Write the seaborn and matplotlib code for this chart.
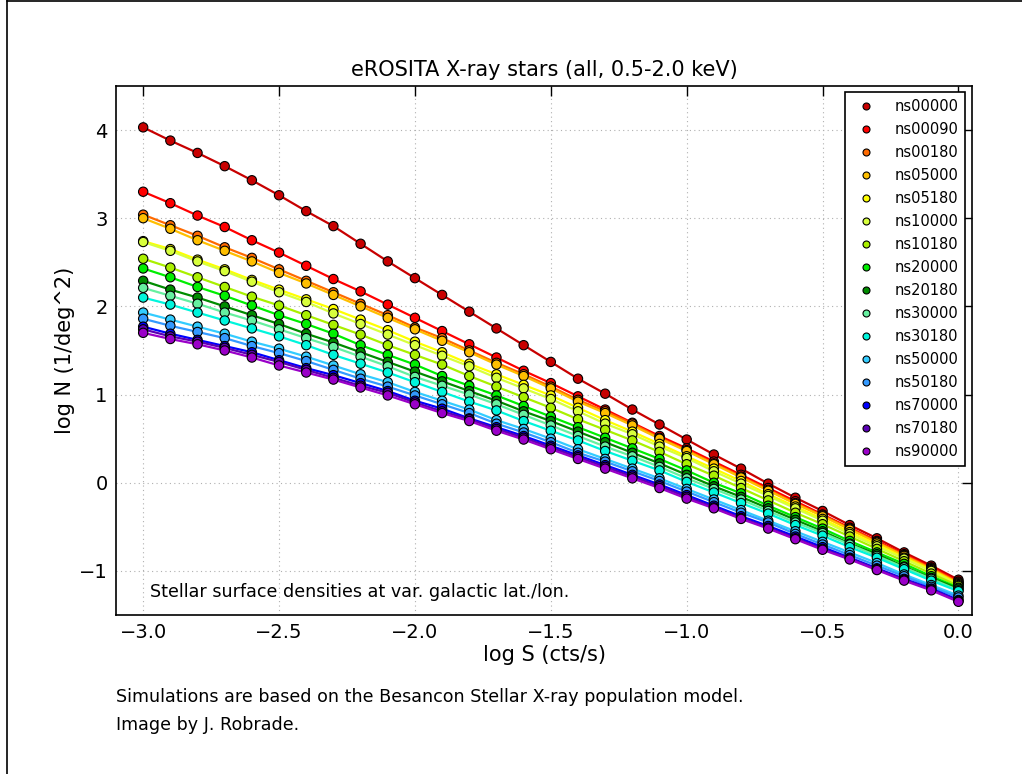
import matplotlib
matplotlib.use("Agg")
import matplotlib.pyplot as plt
import seaborn as sns
import pandas as pd
from matplotlib.lines import Line2D

log_s = [-3.0, -2.9, -2.8, -2.7, -2.6, -2.5, -2.4, -2.3, -2.2, -2.1, -2.0,
         -1.9, -1.8, -1.7, -1.6, -1.5, -1.4, -1.3, -1.2, -1.1, -1.0,
         -0.9, -0.8, -0.7, -0.6, -0.5, -0.4, -0.3, -0.2, -0.1, 0.0]

ns00000 = [4.03, 3.88, 3.74, 3.59, 3.43, 3.26, 3.08, 2.91, 2.71, 2.51, 2.32, 2.13, 1.94, 1.75, 1.56, 1.37, 1.18, 1.01, 0.83, 0.66, 0.49, 0.32, 0.16, -0.01, -0.17, -0.32, -0.48, -0.63, -0.79, -0.94, -1.10]
ns00090 = [3.30, 3.17, 3.03, 2.90, 2.75, 2.61, 2.46, 2.31, 2.17, 2.02, 1.87, 1.72, 1.57, 1.42, 1.27, 1.13, 0.98, 0.83, 0.68, 0.53, 0.39, 0.24, 0.09, -0.06, -0.21, -0.36, -0.51, -0.66, -0.81, -0.96, -1.12]
ns00180 = [3.04, 2.92, 2.80, 2.67, 2.55, 2.42, 2.29, 2.16, 2.03, 1.90, 1.76, 1.64, 1.50, 1.36, 1.23, 1.09, 0.94, 0.81, 0.67, 0.51, 0.37, 0.22, 0.07, -0.08, -0.23, -0.37, -0.52, -0.67, -0.82, -0.97, -1.13]
ns05000 = [3.00, 2.88, 2.75, 2.63, 2.51, 2.38, 2.26, 2.13, 2.00, 1.87, 1.74, 1.61, 1.48, 1.34, 1.21, 1.07, 0.92, 0.79, 0.65, 0.50, 0.36, 0.21, 0.06, -0.09, -0.24, -0.38, -0.53, -0.68, -0.83, -0.98, -1.14]
ns05180 = [2.74, 2.65, 2.53, 2.42, 2.30, 2.19, 2.08, 1.97, 1.85, 1.73, 1.60, 1.48, 1.35, 1.23, 1.11, 0.99, 0.85, 0.71, 0.58, 0.44, 0.30, 0.16, 0.02, -0.13, -0.27, -0.41, -0.56, -0.70, -0.85, -0.99, -1.15]
ns10000 = [2.73, 2.63, 2.51, 2.40, 2.28, 2.16, 2.05, 1.92, 1.80, 1.68, 1.56, 1.44, 1.32, 1.19, 1.07, 0.95, 0.81, 0.67, 0.55, 0.41, 0.28, 0.13, -0.01, -0.15, -0.29, -0.43, -0.58, -0.72, -0.86, -1.00, -1.16]
ns10180 = [2.54, 2.44, 2.33, 2.22, 2.11, 2.01, 1.90, 1.79, 1.68, 1.56, 1.45, 1.34, 1.21, 1.09, 0.97, 0.85, 0.72, 0.60, 0.48, 0.35, 0.21, 0.08, -0.06, -0.20, -0.34, -0.47, -0.61, -0.75, -0.89, -1.03, -1.17]
ns20000 = [2.43, 2.33, 2.22, 2.12, 2.01, 1.90, 1.80, 1.69, 1.56, 1.45, 1.34, 1.21, 1.10, 0.99, 0.87, 0.75, 0.63, 0.51, 0.39, 0.27, 0.14, 0.00, -0.12, -0.26, -0.39, -0.52, -0.66, -0.79, -0.92, -1.06, -1.19]
ns20180 = [2.29, 2.19, 2.10, 2.00, 1.90, 1.80, 1.69, 1.59, 1.48, 1.37, 1.26, 1.15, 1.04, 0.93, 0.81, 0.70, 0.58, 0.46, 0.34, 0.22, 0.09, -0.04, -0.16, -0.29, -0.42, -0.55, -0.69, -0.81, -0.95, -1.08, -1.20]
ns30000 = [2.21, 2.12, 2.03, 1.93, 1.84, 1.74, 1.64, 1.54, 1.43, 1.32, 1.20, 1.10, 1.00, 0.89, 0.77, 0.65, 0.53, 0.41, 0.30, 0.18, 0.05, -0.07, -0.19, -0.32, -0.45, -0.57, -0.70, -0.83, -0.96, -1.09, -1.22]
ns30180 = [2.10, 2.02, 1.93, 1.84, 1.75, 1.66, 1.56, 1.45, 1.35, 1.25, 1.14, 1.03, 0.92, 0.82, 0.70, 0.59, 0.48, 0.36, 0.25, 0.14, 0.01, -0.11, -0.23, -0.35, -0.48, -0.60, -0.73, -0.85, -0.98, -1.11, -1.23]
ns50000 = [1.93, 1.85, 1.77, 1.69, 1.60, 1.52, 1.43, 1.33, 1.23, 1.14, 1.03, 0.93, 0.83, 0.71, 0.61, 0.50, 0.38, 0.27, 0.16, 0.05, -0.07, -0.19, -0.31, -0.43, -0.55, -0.67, -0.79, -0.91, -1.04, -1.16, -1.28]
ns50180 = [1.86, 1.78, 1.71, 1.64, 1.55, 1.47, 1.38, 1.28, 1.18, 1.09, 0.99, 0.89, 0.79, 0.67, 0.57, 0.46, 0.34, 0.24, 0.13, 0.02, -0.10, -0.22, -0.34, -0.45, -0.58, -0.70, -0.82, -0.94, -1.06, -1.18, -1.30]
ns70000 = [1.77, 1.69, 1.62, 1.55, 1.48, 1.39, 1.30, 1.22, 1.13, 1.04, 0.93, 0.84, 0.73, 0.63, 0.53, 0.42, 0.31, 0.20, 0.09, -0.02, -0.14, -0.26, -0.38, -0.49, -0.61, -0.73, -0.85, -0.97, -1.09, -1.20, -1.33]
ns70180 = [1.74, 1.66, 1.60, 1.53, 1.45, 1.37, 1.28, 1.19, 1.10, 1.02, 0.91, 0.81, 0.72, 0.61, 0.51, 0.40, 0.29, 0.18, 0.07, -0.04, -0.16, -0.28, -0.40, -0.51, -0.63, -0.75, -0.86, -0.98, -1.10, -1.21, -1.34]
ns90000 = [1.70, 1.63, 1.57, 1.50, 1.42, 1.33, 1.25, 1.17, 1.08, 0.99, 0.89, 0.79, 0.70, 0.59, 0.49, 0.38, 0.27, 0.16, 0.05, -0.06, -0.18, -0.29, -0.41, -0.52, -0.64, -0.76, -0.87, -0.99, -1.11, -1.22, -1.35]

series_names = ["ns00000", "ns00090", "ns00180", "ns05000", "ns05180", "ns10000",
                "ns10180", "ns20000", "ns20180", "ns30000", "ns30180", "ns50000",
                "ns50180", "ns70000", "ns70180", "ns90000"]
series_values = [ns00000, ns00090, ns00180, ns05000, ns05180, ns10000, ns10180,
                 ns20000, ns20180, ns30000, ns30180, ns50000, ns50180, ns70000,
                 ns70180, ns90000]
series_colors = ["#c80000", "#ff0000", "#ff6a00", "#ffbf00", "#ffff00", "#d8ff3c",
                 "#aaf000", "#00ee00", "#008c00", "#66f0a0", "#00f5dc", "#33ccff",
                 "#3399ff", "#0000ff", "#5a00b4", "#9a00c8"]

rows = []
for name, vals in zip(series_names, series_values):
    assert len(vals) == len(log_s), name
    for xv, yv in zip(log_s, vals):
        rows.append({"logS": xv, "logN": yv, "series": name})
df = pd.DataFrame(rows)
palette = dict(zip(series_names, series_colors))

sns.set_style("white")
plt.rcParams.update({
    "font.family": ["DejaVu Sans"],
    "text.color": "black",
    "axes.labelcolor": "black",
    "xtick.color": "black",
    "ytick.color": "black",
    "xtick.direction": "in",
    "ytick.direction": "in",
    "xtick.top": True,
    "ytick.right": True,
    "xtick.major.size": 7,
    "ytick.major.size": 7,
    "xtick.major.width": 1.0,
    "ytick.major.width": 1.0,
    "axes.unicode_minus": True,
})

fig = plt.figure(figsize=(10.22, 7.74), dpi=100)
ax = fig.add_axes([0.1135, 0.2054, 0.8376, 0.6836])

sns.lineplot(data=df, x="logS", y="logN", hue="series", hue_order=series_names,
             palette=palette, legend=False, linewidth=1.6, sort=False,
             estimator=None, ax=ax, zorder=2)
sns.scatterplot(data=df, x="logS", y="logN", hue="series", hue_order=series_names,
                palette=palette, s=45, edgecolor="black", linewidth=0.8,
                ax=ax, zorder=3)

ax.set_xlim(-3.1, 0.05)
ax.set_ylim(-1.5, 4.5)
ax.set_xticks([-3.0, -2.5, -2.0, -1.5, -1.0, -0.5, 0.0])
ax.set_yticks([-1, 0, 1, 2, 3, 4])
ax.tick_params(labelsize=14, colors="black", pad=6)
ax.grid(True, linestyle=(0, (1, 3)), color="#b0b0b0", linewidth=0.8)
for sp in ax.spines.values():
    sp.set_color("black")
    sp.set_linewidth(1.2)

ax.set_title("eROSITA X-ray stars (all, 0.5-2.0 keV)", fontsize=15, pad=7,
             color="black")
ax.set_xlabel("log S (cts/s)", fontsize=15, labelpad=2, color="black")
ax.set_ylabel("log N (1/deg^2)", fontsize=15, labelpad=3, color="black")

ax.text(-2.975, -1.235, "Stellar surface densities at var. galactic lat./lon.",
        fontsize=12.6, ha="left", va="center", color="black")

leg = ax.legend(loc="upper right", fontsize=10.5, frameon=True, fancybox=False,
                framealpha=1, edgecolor="black", markerscale=0.75,
                labelspacing=0.55, handlelength=2.0, handletextpad=1.0,
                borderaxespad=0.45, borderpad=0.45)
leg.get_frame().set_linewidth(1.2)
for t in leg.get_texts():
    t.set_color("black")

fig.text(116 / 1022, 1 - 697 / 774, "Simulations are based on the Besancon Stellar X-ray population model.",
         fontsize=12.6, ha="left", va="center", color="black")
fig.text(116 / 1022, 1 - 725 / 774, "Image by J. Robrade.",
         fontsize=12.6, ha="left", va="center", color="black")

fig.add_artist(Line2D([7 / 1022, 7 / 1022], [0, 1], transform=fig.transFigure,
                      color="black", linewidth=1.2))
fig.add_artist(Line2D([7 / 1022, 1], [0.999, 0.999], transform=fig.transFigure,
                      color="black", linewidth=1.2))

fig.savefig("out.png", dpi=100)
